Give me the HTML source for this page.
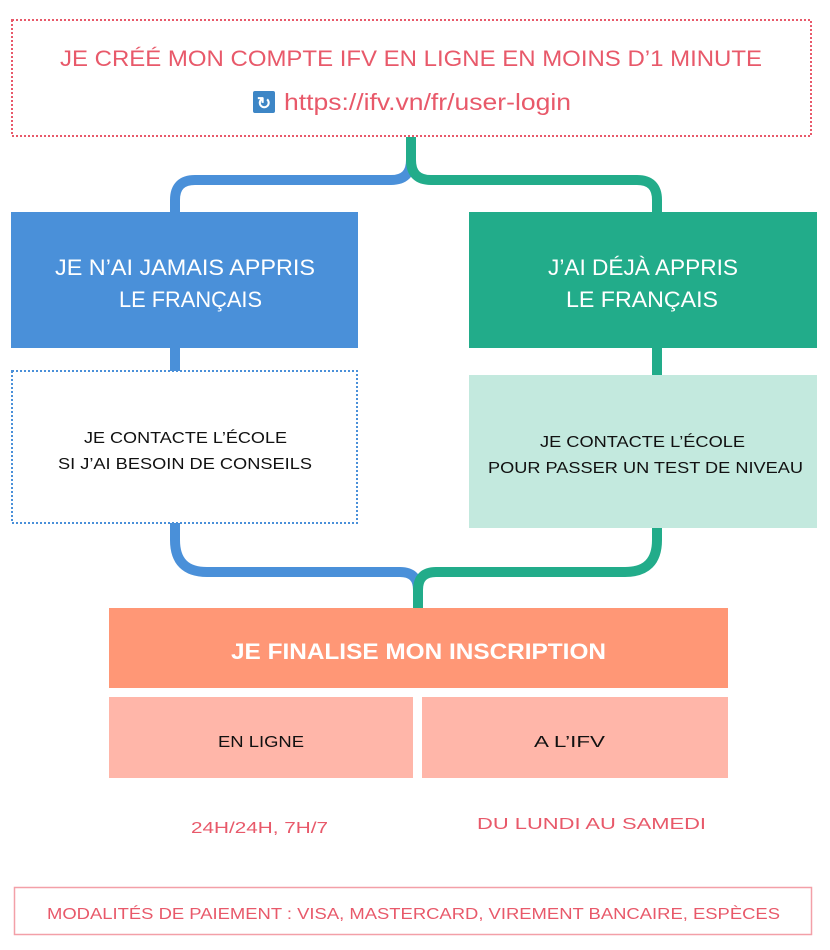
<!DOCTYPE html>
<html><head><meta charset="utf-8"><style>
html,body{margin:0;padding:0;background:#fff;}
svg{display:block;font-family:"Liberation Sans",sans-serif;}
</style></head><body>
<svg width="830" height="950" viewBox="0 0 830 950" xmlns="http://www.w3.org/2000/svg">
<rect x="12" y="20" width="799" height="116" fill="none" stroke="#e8596a" stroke-width="2" stroke-dasharray="2 2"/>
<text x="60" y="66" font-size="22" fill="#e8596a" textLength="702" lengthAdjust="spacingAndGlyphs">JE CRÉÉ MON COMPTE IFV EN LIGNE EN MOINS D’1 MINUTE</text>
<rect x="253" y="91" width="22" height="22" rx="2" fill="#3d86c6"/>
<text x="264" y="109" font-size="17" fill="#fff" text-anchor="middle" font-weight="bold">↻</text>
<text x="284" y="110" font-size="23" fill="#e8596a" textLength="287" lengthAdjust="spacingAndGlyphs">https://ifv.vn/fr/user-login</text>

<g fill="none" stroke-width="10">
<path d="M411 137 V160 Q411 180 391 180 H195 Q175 180 175 200 V214" stroke="#4a90d9"/>
<path d="M411 137 V160 Q411 180 431 180 H637 Q657 180 657 200 V214" stroke="#22ac8a"/>
<path d="M175 346 V372" stroke="#4a90d9"/>
<path d="M657 346 V377" stroke="#22ac8a"/>
<path d="M175 522 V540 Q175 572 207 572 H400 Q418 572 418 590 V610" stroke="#4a90d9"/>
<path d="M657 526 V540 Q657 572 625 572 H436 Q418 572 418 590 V610" stroke="#22ac8a"/>
</g>

<rect x="11" y="212" width="347" height="136" fill="#4a90d9"/>
<text x="55" y="275" font-size="22" fill="#fff" textLength="260" lengthAdjust="spacingAndGlyphs">JE N’AI JAMAIS APPRIS</text>
<text x="119" y="307" font-size="22" fill="#fff" textLength="143" lengthAdjust="spacingAndGlyphs">LE FRANÇAIS</text>

<rect x="469" y="212" width="348" height="136" fill="#22ac8a"/>
<text x="548" y="275" font-size="22" fill="#fff" textLength="190" lengthAdjust="spacingAndGlyphs">J’AI DÉJÀ APPRIS</text>
<text x="566" y="307" font-size="22" fill="#fff" textLength="152" lengthAdjust="spacingAndGlyphs">LE FRANÇAIS</text>

<rect x="12" y="371" width="345" height="152" fill="#fff" stroke="#4a90d9" stroke-width="2" stroke-dasharray="2 2"/>
<text x="84" y="443" font-size="16" fill="#111" textLength="203" lengthAdjust="spacingAndGlyphs">JE CONTACTE L’ÉCOLE</text>
<text x="58" y="469" font-size="16" fill="#111" textLength="254" lengthAdjust="spacingAndGlyphs">SI J’AI BESOIN DE CONSEILS</text>

<rect x="469" y="375" width="348" height="153" fill="#c3e9de"/>
<text x="540" y="447" font-size="16" fill="#111" textLength="205" lengthAdjust="spacingAndGlyphs">JE CONTACTE L’ÉCOLE</text>
<text x="488" y="473" font-size="16" fill="#111" textLength="315" lengthAdjust="spacingAndGlyphs">POUR PASSER UN TEST DE NIVEAU</text>

<rect x="109" y="608" width="619" height="80" fill="#ff9776"/>
<text x="231" y="659" font-size="22" font-weight="bold" fill="#fff" textLength="375" lengthAdjust="spacingAndGlyphs">JE FINALISE MON INSCRIPTION</text>

<rect x="109" y="697" width="304" height="81" fill="#ffb6a9"/>
<rect x="422" y="697" width="306" height="81" fill="#ffb6a9"/>
<text x="218" y="747" font-size="16" fill="#111" textLength="86" lengthAdjust="spacingAndGlyphs">EN LIGNE</text>
<text x="534" y="747" font-size="16" fill="#111" textLength="71" lengthAdjust="spacingAndGlyphs">A L’IFV</text>

<text x="191" y="833" font-size="16" fill="#e8596a" textLength="137" lengthAdjust="spacingAndGlyphs">24H/24H, 7H/7</text>
<text x="477" y="829" font-size="16" fill="#e8596a" textLength="229" lengthAdjust="spacingAndGlyphs">DU LUNDI AU SAMEDI</text>

<rect x="14.5" y="887.5" width="797" height="47" fill="none" stroke="#f3a0a8" stroke-width="1.5"/>
<text x="47" y="919" font-size="16" fill="#e8596a" textLength="733" lengthAdjust="spacingAndGlyphs">MODALITÉS DE PAIEMENT : VISA, MASTERCARD, VIREMENT BANCAIRE, ESPÈCES</text>
</svg>
</body></html>
